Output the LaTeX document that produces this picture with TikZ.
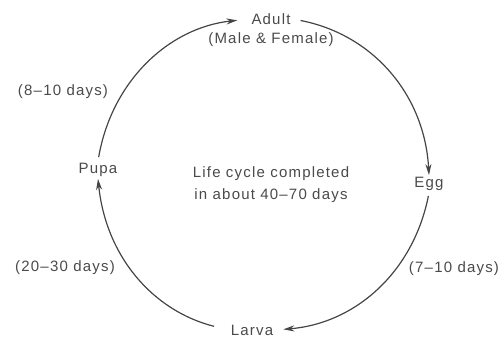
\documentclass[tikz,border=0pt]{standalone}
\usepackage{fontspec}
\setmainfont{Liberation Sans}[LetterSpace=8]
\usetikzlibrary{positioning,arrows.meta}
\definecolor{inkgray}{HTML}{4A4A4A}
\definecolor{linegray}{HTML}{454545}
\tikzset{x=1pt, y=1pt, node distance=100pt and 100pt, on grid, semithick,
stage/.style={text=inkgray, font=\fontsize{15}{22}\selectfont, inner sep=2pt},
lifearrow/.style={draw=linegray, line width=1.2pt, -{Stealth[length=11pt,width=6pt]}}}

\begin{document}
\begin{tikzpicture}
\useasboundingbox (0,0) rectangle (504,341);
\node[stage, align=center] (life) at (271,156) {Life cycle completed\\in about 40–70 days};
\node[stage] (adult) [above=166pt of life] {Adult};
\node[stage] (male) [below=21pt of adult] {(Male \& Female)};
\node[stage] (pupa) [above left=15pt and 173pt of life] {Pupa};
\node[stage] (egg) [above right=1pt and 158pt of life] {Egg};
\node[stage] (larva) [below left=145pt and 19pt of life] {Larva};
\node[stage] (d8) at (63,249) {(8–10 days)};
\node[stage] (d7) at (454,72) {(7–10 days)};
\node[stage] (d20) at (65,73) {(20–30 days)};
\path
    (pupa.north) edge[lifearrow, bend left=37, shorten <=4pt, shorten >=12pt] (adult.west)
    (adult.east) edge[lifearrow, bend left=38, shorten <=8pt] (egg.north)
    (egg.south) edge[lifearrow, bend left=37, shorten <=3pt, shorten >=8pt] (larva.east)
    (larva.west) edge[lifearrow, bend left=35, shorten <=15pt] (pupa.south);
\end{tikzpicture}
\end{document}
